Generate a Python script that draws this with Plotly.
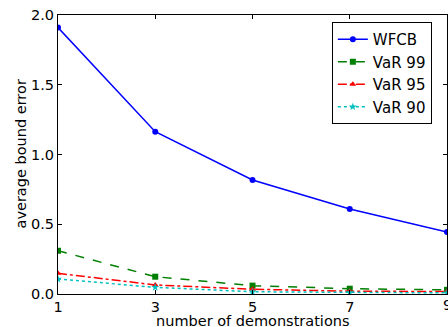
import plotly.graph_objects as go

demos = [1, 3, 5, 7, 9]
wfcb = [1.91, 1.163, 0.817, 0.61, 0.445]
var99 = [0.31, 0.124, 0.06, 0.038, 0.03]
var95 = [0.148, 0.065, 0.034, 0.02, 0.018]
var90 = [0.107, 0.048, 0.016, 0.01, 0.008]
x_title = "number of demonstrations"
y_title = "average bound error"

series = [
    ("WFCB", wfcb, "#0000ff", "solid", "circle", 6),
    ("VaR 99", var99, "#007f00", "dash", "square", 6),
    ("VaR 95", var95, "#ff0000", "dashdot", "triangle-up", 6),
    ("VaR 90", var90, "#00bfbf", "dot", "star", 6),
]

fig = go.Figure()
for name, vals, color, dash, sym, sz in series:
    fig.add_trace(go.Scatter(
        x=demos, y=vals, name=name, mode="lines+markers",
        line=dict(color=color, width=1.5, dash=dash),
        marker=dict(symbol=sym, size=sz, color=color),
    ))

axis_common = dict(
    showline=True, linecolor="black", linewidth=1, mirror="ticks",
    ticks="inside", ticklen=4, tickcolor="black", showgrid=False,
    zeroline=False, tickfont=dict(size=14.5, color="black"), automargin=False,
)
fig.update_xaxes(range=[1, 9], tickvals=demos, **axis_common)
fig.update_yaxes(range=[0, 2], tickvals=[0, 0.5, 1.0, 1.5, 2.0], tickformat=".1f",
                 **axis_common)

tfont = dict(size=14.5, color="black")
# last x tick label is partly cut by the figure edge in the reference
fig.add_annotation(x=demos[-1], y=0, xref="x", yref="paper", yanchor="top",
                   yshift=-1, text=str(demos[-1]), showarrow=False, font=tfont)
fig.add_annotation(x=0.5, y=0, xref="paper", yref="paper", yanchor="middle",
                   yshift=-27, text=x_title, showarrow=False, font=tfont)
fig.add_annotation(x=0, y=0.5, xref="paper", yref="paper", xanchor="center",
                   xshift=-38, textangle=-90, text=y_title, showarrow=False, font=tfont)

fig.update_layout(
    width=448, height=327,
    margin=dict(l=58, r=1, t=15, b=33),
    paper_bgcolor="white", plot_bgcolor="white",
    font=dict(family="DejaVu Sans", size=14, color="black"),
    legend=dict(x=0.704, y=0.975, xanchor="left", yanchor="top",
                bordercolor="black", borderwidth=1, bgcolor="white",
                font=dict(size=15)),
)

fig.write_html("out.html", config={"displayModeBar": False},
               post_script="document.body.style.margin='0';")
